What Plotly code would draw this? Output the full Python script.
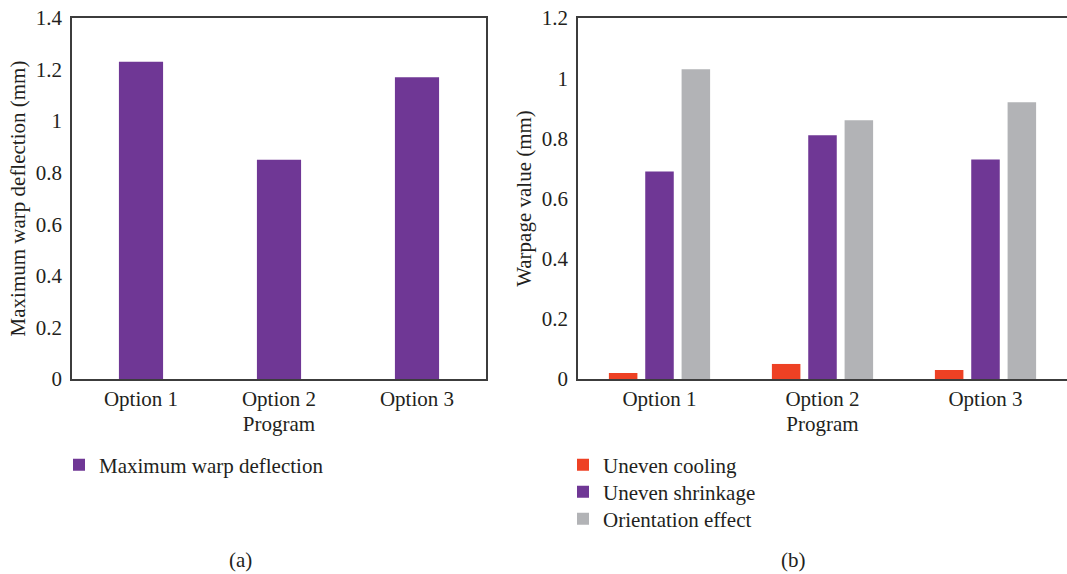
import plotly.graph_objects as go

# Data
programs = ["Option 1", "Option 2", "Option 3"]
max_warp = [1.23, 0.85, 1.17]
uneven_cooling = [0.02, 0.05, 0.03]
uneven_shrinkage = [0.69, 0.81, 0.73]
orientation_effect = [1.03, 0.86, 0.92]

PURPLE = "#6f3795"
RED = "#ee4124"
GRAY = "#b2b3b6"
TEXT = "#231f20"
AXIS = "#3c3c3c"
FONT = "Liberation Serif"
FS = 21

W, H = 1067, 574

fig = go.Figure()

# Panel (a)
fig.add_trace(go.Bar(
    x=programs, y=max_warp, name="Maximum warp deflection",
    marker=dict(color=PURPLE, line=dict(width=0)),
    width=0.32, offset=-0.16, xaxis="x", yaxis="y", legend="legend",
))

# Panel (b): three series side by side in each category, one legend box per entry
bw, step = 0.175, 0.223
series_b = [
    ("Uneven cooling", uneven_cooling, RED, -step, "legend2"),
    ("Uneven shrinkage", uneven_shrinkage, PURPLE, 0.0, "legend3"),
    ("Orientation effect", orientation_effect, GRAY, step, "legend4"),
]
for name, vals, col, center, leg in series_b:
    fig.add_trace(go.Bar(
        x=programs, y=vals, name=name,
        marker=dict(color=col, line=dict(width=0)),
        width=bw, offset=center - bw / 2, xaxis="x2", yaxis="y2", legend=leg,
    ))

y_dom = [1 - 379 / H, 1 - 18 / H]
tfont = dict(family=FONT, size=FS, color=TEXT)

axis_common = dict(
    showline=True, linecolor=AXIS, linewidth=1.5, showgrid=False, zeroline=False,
    ticks="", tickfont=tfont, automargin=False,
)


def legend_box(x_px, y_px):
    return dict(x=x_px / W, y=1 - y_px / H, xanchor="left", yanchor="middle",
                font=tfont, bgcolor="rgba(0,0,0,0)")


fig.update_layout(
    width=W, height=H,
    margin=dict(l=0, r=0, t=0, b=0),
    paper_bgcolor="white", plot_bgcolor="white",
    font=dict(family=FONT, color=TEXT),
    barmode="overlay",
    xaxis=dict(domain=[72 / W, 486 / W], mirror=True,
               title=dict(text="Program", font=tfont, standoff=6),
               **axis_common),
    yaxis=dict(domain=y_dom, range=[0, 1.4], dtick=0.2, mirror=True, ticklabelstandoff=4,
               title=dict(text="Maximum warp deflection (mm)", font=tfont, standoff=4),
               **axis_common),
    xaxis2=dict(domain=[578 / W, 1.0], anchor="y2", mirror=True,
                title=dict(text="Program", font=tfont, standoff=6),
                **axis_common),
    yaxis2=dict(domain=y_dom, range=[0, 1.2], dtick=0.2, anchor="x2", ticklabelstandoff=4,
                title=dict(text="Warpage value (mm)", font=tfont, standoff=4),
                **axis_common),
    legend=legend_box(59, 465),
    legend2=legend_box(563, 465),
    legend3=legend_box(563, 492),
    legend4=legend_box(563, 519),
    showlegend=True,
    annotations=[
        dict(text="(a)", x=240 / W, y=1 - 560 / H, xref="paper", yref="paper",
             xanchor="center", yanchor="middle", showarrow=False, font=tfont),
        dict(text="(b)", x=793 / W, y=1 - 560 / H, xref="paper", yref="paper",
             xanchor="center", yanchor="middle", showarrow=False, font=tfont),
    ],
)

fig.write_html("out.html")
